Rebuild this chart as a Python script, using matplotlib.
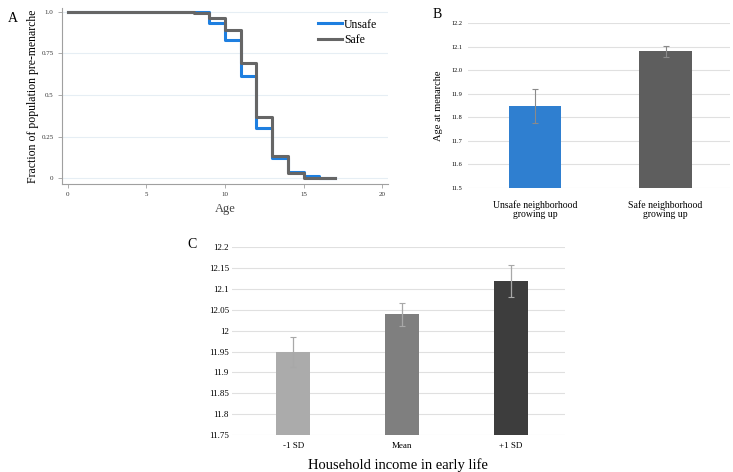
import numpy as np
import matplotlib.pyplot as plt

plt.rcParams['font.family'] = ['Liberation Serif', 'DejaVu Serif']

# Panel A: fraction pre-menarche by age (step functions)
ages = [0, 7, 8, 9, 10, 11, 12, 13, 14, 15, 16, 17]
unsafe_frac = [1.0, 0.999, 0.997, 0.932, 0.828, 0.617, 0.301, 0.120, 0.035, 0.014, 0.0, 0.0]
safe_frac = [1.0, 0.998, 0.993, 0.964, 0.892, 0.692, 0.369, 0.134, 0.034, 0.004, 0.0, 0.0]
a_xticks = [0, 5, 10, 15, 20]
a_yticks = [0, 0.25, 0.5, 0.75, 1.0]
a_ylabels = ['0', '0.25', '0.5', '0.75', '1.0']

# Panel B: age at menarche by neighborhood safety
b_labels = ['Unsafe neighborhood\ngrowing up', 'Safe neighborhood\ngrowing up']
b_means = [11.848, 12.081]
b_errs = [0.073, 0.024]
b_colors = ['#2f7fd0', '#5e5e5e']
b_yticks = [11.5, 11.6, 11.7, 11.8, 11.9, 12.0, 12.1, 12.2]

# Panel C: age at menarche by household income
c_labels = ['-1 SD', 'Mean', '+1 SD']
c_means = [11.949, 12.039, 12.120]
c_errs = [0.037, 0.027, 0.038]
c_colors = ['#ababab', '#7f7f7f', '#3d3d3d']
c_yticks = [11.75, 11.8, 11.85, 11.9, 11.95, 12.0, 12.05, 12.1, 12.15, 12.2]
c_yticklabels = ['11.75', '11.8', '11.85', '11.9', '11.95', '12', '12.05', '12.1', '12.15', '12.2']

W, H = 733, 472
fig = plt.figure(figsize=(W / 100, H / 100), dpi=100)


def px_axes(x0, y0, x1, y1):
    # pixel box (top-left origin) -> figure axes
    return fig.add_axes([x0 / W, 1 - y1 / H, (x1 - x0) / W, (y1 - y0) / H])


# ---- Panel A ----
axA = px_axes(62, 8, 388, 184)
px_per = (382.3 - 67.7) / 20
axA.set_xlim(-(67.7 - 62) / px_per, 20 + (388 - 382.3) / px_per)
ypx = (178.3 - 11.7)
axA.set_ylim(-(184 - 178.3) / ypx, 1 + (11.7 - 8) / ypx)
axA.step(ages, unsafe_frac, where='post', color='#1e7fe0', lw=2.2, label='Unsafe')
axA.step(ages, safe_frac, where='post', color='#666666', lw=2.2, label='Safe')
for y in a_yticks:
    axA.axhline(y, color='#e6eef4', lw=0.8, zorder=0)
axA.set_xticks(a_xticks)
axA.set_xticklabels([str(t) for t in a_xticks], fontsize=5)
axA.set_yticks(a_yticks)
axA.set_yticklabels(a_ylabels, fontsize=5)
for s in ['top', 'right']:
    axA.spines[s].set_visible(False)
for s in ['left', 'bottom']:
    axA.spines[s].set_color('#a0a0a0')
    axA.spines[s].set_linewidth(0.8)
axA.tick_params(axis='both', colors='#a0a0a0', labelcolor='#333333', length=3, width=0.6, pad=3)
axA.set_xlabel('Age', fontsize=9, color='#444444', labelpad=4)
axA.set_ylabel('Fraction of population pre-menarche', fontsize=8.5, labelpad=2)
axA.legend(loc='upper right', frameon=False, fontsize=8.5, handlelength=2.0,
           handletextpad=0.2, labelspacing=0.3, bbox_to_anchor=(1.0, 1.0))
fig.text(8 / W, 1 - 18 / H, 'A', fontsize=10, va='center')

# ---- Panel B ----
axB = px_axes(468, 23.3, 730, 187.7)
xb = np.arange(len(b_labels))
axB.bar(xb, [m - 11.5 for m in b_means], bottom=11.5, width=0.40, color=b_colors, zorder=2)
axB.errorbar(xb, b_means, yerr=b_errs, fmt='none', ecolor='#8a8a8a', elinewidth=0.8,
             capsize=2, capthick=0.8, zorder=3)
axB.set_xlim(-0.514, 1.494)
axB.set_ylim(11.5, 12.2)
axB.set_yticks(b_yticks)
axB.set_yticklabels(['%.1f' % t for t in b_yticks], fontsize=4.5)
axB.yaxis.grid(True, color='#e0e0e0', lw=0.8, zorder=0)
axB.set_axisbelow(True)
axB.set_xticks(xb)
axB.set_xticklabels(b_labels, fontsize=7, linespacing=0.95)
for s in axB.spines.values():
    s.set_visible(False)
axB.tick_params(axis='both', length=0, pad=4)
axB.tick_params(axis='x', pad=9)
axB.set_ylabel('Age at menarche', fontsize=7.5, labelpad=6)
fig.text(433 / W, 1 - 15 / H, 'B', fontsize=10, va='center')

# ---- Panel C ----
axC = px_axes(231.7, 247.3, 565, 435)
xc = np.arange(len(c_labels))
axC.bar(xc, [m - 11.75 for m in c_means], bottom=11.75, width=0.315, color=c_colors, zorder=2)
axC.errorbar(xc, c_means, yerr=c_errs, fmt='none', ecolor='#a8a8a8', elinewidth=0.9,
             capsize=2, capthick=0.8, zorder=3)
axC.set_xlim(-0.565, 2.496)
axC.set_ylim(11.75, 12.2)
axC.set_yticks(c_yticks)
axC.set_yticklabels(c_yticklabels, fontsize=6.5)
axC.yaxis.grid(True, color='#e0e0e0', lw=0.8, zorder=0)
axC.set_axisbelow(True)
axC.set_xticks(xc)
axC.set_xticklabels(c_labels, fontsize=6.5)
for s in axC.spines.values():
    s.set_visible(False)
axC.tick_params(axis='both', length=0, pad=2)
axC.tick_params(axis='x', pad=5)
axC.set_xlabel('Household income in early life', fontsize=10.5, labelpad=6)
fig.text(187 / W, 1 - 245 / H, 'C', fontsize=10, va='center')

fig.savefig('out.png', dpi=100)
